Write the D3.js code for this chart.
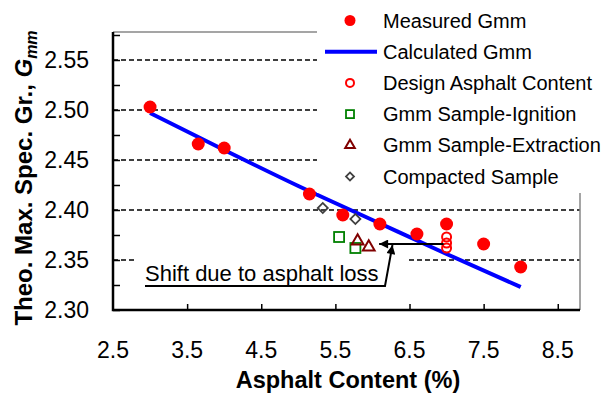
<!DOCTYPE html>
<html lang="en">
<head>
<meta charset="UTF-8">
<title>Gmm vs asphalt content</title>
<style>
  body { margin: 0; background: #fff; }
  svg text { font-family: "Liberation Sans", Arial, sans-serif; }
</style>
</head>
<body>
<svg id="chart"></svg>
<script src="https://cdnjs.cloudflare.com/ajax/libs/d3/7.8.5/d3.min.js"></script>
<script>
// values
const measuredX = [3.0, 3.65, 4.0, 5.15, 5.6, 6.1, 6.6, 7.0, 7.5, 8.0];
const measuredY = [2.503, 2.466, 2.462, 2.416, 2.395, 2.386, 2.376, 2.386, 2.366, 2.343];
const calcX = [3, 4, 5, 6, 7, 8];
const calcY = [2.497, 2.460, 2.424, 2.390, 2.356, 2.323];
const designX = [7.0, 7.0, 7.0];
const designY = [2.373, 2.367, 2.362];
const ignitionX = [5.55, 5.77];
const ignitionY = [2.373, 2.362];
const extractionX = [5.80, 5.95];
const extractionY = [2.369, 2.363];
const compactedX = [5.33, 5.77];
const compactedY = [2.402, 2.391];
const xTicks = [2.5, 3.5, 4.5, 5.5, 6.5, 7.5, 8.5];
const yTicks = [2.30, 2.35, 2.40, 2.45, 2.50, 2.55];
const legendLabels = ['Measured Gmm', 'Calculated Gmm', 'Design Asphalt Content',
  'Gmm Sample-Ignition', 'Gmm Sample-Extraction', 'Compacted Sample'];

const W = 604, H = 394;
const pl = 113, pr = 580, pt = 32, pb = 310;

const svg = d3.select('#chart').attr('width', W).attr('height', H);

const x = d3.scaleLinear().domain([2.5, 8.8]).range([pl, pr]);
const y = d3.scaleLinear().domain([2.30, 2.578]).range([pb, pt]);

const zip = (xs, ys) => xs.map((v, i) => [v, ys[i]]);

// gridlines
svg.append('g').selectAll('line')
  .data(yTicks.slice(1))
  .join('line')
  .attr('x1', pl).attr('x2', pr)
  .attr('y1', d => y(d)).attr('y2', d => y(d))
  .attr('stroke', '#000').attr('stroke-width', 1.3)
  .attr('stroke-dasharray', '5,3');

// plot frame (top / right grey)
svg.append('path')
  .attr('d', `M${pl},${pt}H${pr}V${pb}`)
  .attr('fill', 'none').attr('stroke', '#888').attr('stroke-width', 1.5);

// annotation backdrop
svg.append('rect')
  .attr('x', 137).attr('y', 255).attr('width', 270).attr('height', 40)
  .attr('fill', '#fff');

// axes
const yAxis = d3.axisLeft(y).tickValues(d3.range(2.30, 2.576, 0.025)).tickSize(-7).tickFormat('');
svg.append('g').attr('transform', `translate(${pl},0)`).call(yAxis)
  .call(g => g.select('.domain').remove())
  .call(g => g.selectAll('line').attr('stroke', '#000').attr('stroke-width', 1.5));

const xAxis = d3.axisBottom(x).tickValues(xTicks.slice(1)).tickSize(-6).tickFormat('');
svg.append('g').attr('transform', `translate(0,${pb})`).call(xAxis)
  .call(g => g.select('.domain').remove())
  .call(g => g.selectAll('line').attr('stroke', '#000').attr('stroke-width', 1.5));

svg.append('path')
  .attr('d', `M${pl},${pt}V${pb}H${pr}`)
  .attr('fill', 'none').attr('stroke', '#000').attr('stroke-width', 2.5);

// tick labels
svg.append('g').selectAll('text')
  .data(yTicks).join('text')
  .attr('x', 89).attr('y', d => y(d) + 8)
  .attr('text-anchor', 'end').attr('font-size', 23)
  .text(d => d.toFixed(2));

svg.append('g').selectAll('text')
  .data(xTicks).join('text')
  .attr('x', d => x(d)).attr('y', 358)
  .attr('text-anchor', 'middle').attr('font-size', 23)
  .text(d => d.toFixed(1));

// axis titles
svg.append('text')
  .attr('x', 348).attr('y', 388)
  .attr('text-anchor', 'middle').attr('font-size', 23.5).attr('font-weight', 'bold')
  .text('Asphalt Content (%)');

const yt = svg.append('text')
  .attr('transform', 'translate(32,178) rotate(-90)')
  .attr('text-anchor', 'middle').attr('font-size', 24).attr('font-weight', 'bold');
yt.append('tspan').text('Theo. Max. Spec. Gr., ');
yt.append('tspan').attr('font-style', 'italic').text('G');
yt.append('tspan').attr('font-style', 'italic').attr('font-size', 16).attr('dy', 5).text('mm');

// calculated line
svg.append('path')
  .datum(zip(calcX, calcY))
  .attr('d', d3.line().x(d => x(d[0])).y(d => y(d[1])).curve(d3.curveMonotoneX))
  .attr('fill', 'none').attr('stroke', '#0000ff').attr('stroke-width', 4);

// markers
svg.append('g').selectAll('circle')
  .data(zip(measuredX, measuredY)).join('circle')
  .attr('cx', d => x(d[0])).attr('cy', d => y(d[1])).attr('r', 6.5)
  .attr('fill', '#ff0000');

svg.append('g').selectAll('circle')
  .data(zip(designX, designY)).join('circle')
  .attr('cx', d => x(d[0])).attr('cy', d => y(d[1])).attr('r', 4.5)
  .attr('fill', 'none').attr('stroke', '#ff0000').attr('stroke-width', 2);

svg.append('g').selectAll('rect')
  .data(zip(ignitionX, ignitionY)).join('rect')
  .attr('x', d => x(d[0]) - 5).attr('y', d => y(d[1]) - 5)
  .attr('width', 10).attr('height', 10)
  .attr('fill', 'none').attr('stroke', '#008000').attr('stroke-width', 1.8);

const tri = d3.symbol().type(d3.symbolTriangle).size(60);
svg.append('g').selectAll('path')
  .data(zip(extractionX, extractionY)).join('path')
  .attr('d', tri)
  .attr('transform', d => `translate(${x(d[0])},${y(d[1])})`)
  .attr('fill', 'none').attr('stroke', '#800000').attr('stroke-width', 2);

const dia = d3.symbol().type(d3.symbolSquare).size(50);
svg.append('g').selectAll('path')
  .data(zip(compactedX, compactedY)).join('path')
  .attr('d', dia)
  .attr('transform', d => `translate(${x(d[0])},${y(d[1])}) rotate(45)`)
  .attr('fill', 'none').attr('stroke', '#404040').attr('stroke-width', 1.8);

// annotation
svg.append('defs').append('marker')
  .attr('id', 'head').attr('viewBox', '0 0 10 10')
  .attr('refX', 10).attr('refY', 5)
  .attr('markerWidth', 14).attr('markerHeight', 9)
  .attr('markerUnits', 'userSpaceOnUse')
  .attr('orient', 'auto')
  .append('path').attr('d', 'M0,0L10,5L0,10Z').attr('fill', '#000');

svg.append('line')
  .attr('x1', x(6.96)).attr('y1', y(2.366))
  .attr('x2', x(6.09)).attr('y2', y(2.366))
  .attr('stroke', '#000').attr('stroke-width', 2)
  .attr('marker-end', 'url(#head)');

svg.append('text')
  .attr('x', 145).attr('y', 281)
  .attr('font-size', 22)
  .text('Shift due to asphalt loss');

svg.append('path')
  .attr('d', `M145,286H385L${x(6.27)},${y(2.365)}`)
  .attr('fill', 'none').attr('stroke', '#000').attr('stroke-width', 2)
  .attr('marker-end', 'url(#head)');

// legend
const legend = svg.append('g');
legend.append('rect').attr('x', 317).attr('y', 0).attr('width', W - 317).attr('height', 193).attr('fill', '#fff');
const rowY = i => 20.5 + i * 31.2;
legend.selectAll('text')
  .data(legendLabels).join('text')
  .attr('x', 383).attr('y', (d, i) => rowY(i) + 7)
  .attr('font-size', 20)
  .text(d => d);

legend.append('circle').attr('cx', 350).attr('cy', rowY(0)).attr('r', 5.5).attr('fill', '#ff0000');
legend.append('line').attr('x1', 325).attr('x2', 377).attr('y1', rowY(1)).attr('y2', rowY(1))
  .attr('stroke', '#0000ff').attr('stroke-width', 4);
legend.append('circle').attr('cx', 350).attr('cy', rowY(2)).attr('r', 4)
  .attr('fill', 'none').attr('stroke', '#ff0000').attr('stroke-width', 2);
legend.append('rect').attr('x', 346).attr('y', rowY(3) - 4).attr('width', 8).attr('height', 8)
  .attr('fill', 'none').attr('stroke', '#008000').attr('stroke-width', 1.8);
legend.append('path').attr('d', d3.symbol().type(d3.symbolTriangle).size(40))
  .attr('transform', `translate(350,${rowY(4)})`)
  .attr('fill', 'none').attr('stroke', '#800000').attr('stroke-width', 2);
legend.append('path').attr('d', d3.symbol().type(d3.symbolSquare).size(32))
  .attr('transform', `translate(350,${rowY(5)}) rotate(45)`)
  .attr('fill', 'none').attr('stroke', '#404040').attr('stroke-width', 1.8);
</script>
</body>
</html>
